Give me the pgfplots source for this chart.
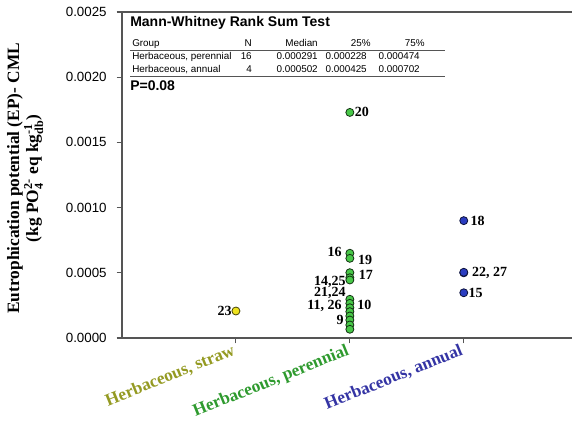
\documentclass[border=0pt]{standalone}
\usepackage{pgfplots}
\pgfplotsset{compat=1.18}
\usepackage{amsmath}
\usepackage{fontspec}
\setmainfont{Liberation Serif}
\newfontfamily\arial{Liberation Sans}
\definecolor{strawtxt}{HTML}{949A22}
\definecolor{pertxt}{HTML}{2E9A2E}
\definecolor{anntxt}{HTML}{3434A4}
\definecolor{yelpt}{HTML}{EEE21E}
\definecolor{grnpt}{HTML}{48C848}
\definecolor{blupt}{HTML}{2A3CC0}
\definecolor{axgray}{HTML}{555555}
\begin{document}
\begin{tikzpicture}
\begin{axis}[name=ax, scale only axis, width=337.5pt, height=244.5pt,
  xmin=0, xmax=3.95, ymin=0, ymax=0.0025,
  axis x line=box, axis y line=left,
  x axis line style={-, axgray, line width=0.8pt},
  y axis line style={-, axgray, line width=0.8pt},
  tick style={axgray, line width=0.8pt},
  tick align=outside, major tick length=4pt,
  xtick={1,2,3}, xtick pos=bottom,
  xticklabels={\textcolor{strawtxt}{Herbaceous, straw},\textcolor{pertxt}{Herbaceous, perennial},\textcolor{anntxt}{Herbaceous, annual}},
  xticklabel style={rotate=22, anchor=north east, font=\bfseries\fontsize{13}{14}\selectfont, inner sep=1pt, xshift=-2pt, yshift=2.5pt},
  ytick={0,0.0005,0.0010,0.0015,0.0020,0.0025},
  scaled y ticks=false,
  yticklabel style={/pgf/number format/fixed, /pgf/number format/fixed zerofill, /pgf/number format/precision=4, /pgf/number format/assume math mode=true, font=\arial\fontsize{10}{12}\selectfont, xshift=-4pt},
  ylabel={Eutrophication potential (EP)- CML\\(kg PO$_{\text{4}}^{\text{2-}}$ eq kg$_{\text{db}}^{\text{-1}}$)},
  ylabel style={align=center, font=\bfseries\fontsize{13}{11.5}\selectfont, at={(axis description cs:-0.215,0.49)}, anchor=center, rotate=0},
  clip=false,
]
\addplot[only marks, mark=*, mark size=3pt, mark options={fill=yelpt, draw=black!70!yelpt, line width=0.6pt}] coordinates {(1,0.000207)};
\addplot[only marks, mark=*, mark size=3pt, mark options={fill=grnpt, draw=black!75!grnpt, line width=0.6pt}] coordinates {
(2,0.00173) (2,0.00065) (2,0.000611) (2,0.000501) (2,0.000462) (2,0.000445)
(2,0.000297) (2,0.000266) (2,0.000232) (2,0.000202) (2,0.000169) (2,0.000138) (2,0.0001) (2,0.000067)};
\addplot[only marks, mark=*, mark size=3pt, mark options={fill=blupt, draw=black!70!blupt, line width=0.6pt}] coordinates {
(3,0.0009) (3,0.0005) (3,0.000504) (3,0.000347)};
\begin{scope}[font=\bfseries\fontsize{10.5}{12}\selectfont, inner sep=0pt]
\node[anchor=east] at ([xshift=-3pt]axis cs:1,0.000207) {23};
\node[anchor=west] at ([xshift=3.5pt]axis cs:2,0.00173) {20};
\node[anchor=east] at ([xshift=-6pt]axis cs:2,0.00066) {16};
\node[anchor=west] at ([xshift=6pt]axis cs:2,0.000598) {19};
\node[anchor=west] at ([xshift=6.5pt]axis cs:2,0.000483) {17};
\node[anchor=east] at ([xshift=-3pt]axis cs:2,0.000432) {14,25};
\node[anchor=east] at ([xshift=-3pt]axis cs:2,0.000343) {21,24};
\node[anchor=east] at ([xshift=-6pt]axis cs:2,0.000245) {11, 26};
\node[anchor=west] at ([xshift=5.5pt]axis cs:2,0.000253) {10};
\node[anchor=east] at ([xshift=-4.5pt]axis cs:2,0.000138) {9};
\node[anchor=west] at ([xshift=5pt]axis cs:3,0.0009) {18};
\node[anchor=west] at ([xshift=6pt]axis cs:3,0.000502) {22, 27};
\node[anchor=west] at ([xshift=3.5pt]axis cs:3,0.000347) {15};
\end{scope}
\end{axis}
\begin{scope}[shift={(ax.north west)}, xshift=-91.5pt, yshift=9pt, x=0.75pt, y=-0.75pt]
\node[anchor=base west, inner sep=0pt, font=\arial\bfseries\fontsize{10.5}{12}\selectfont] at (130,27) {Mann-Whitney Rank Sum Test};
\begin{scope}[font=\arial\fontsize{7.4}{9}\selectfont, inner sep=0pt]
\node[anchor=base west] at (132,47) {Group};
\node[anchor=base east] at (252,47) {N};
\node[anchor=base east] at (318,47) {Median};
\node[anchor=base east] at (371,47) {25\%};
\node[anchor=base east] at (425,47) {75\%};
\node[anchor=base west] at (132,59.5) {Herbaceous, perennial};
\node[anchor=base east] at (252,59.5) {16};
\node[anchor=base east] at (318,59.5) {0.000291};
\node[anchor=base east] at (367,59.5) {0.000228};
\node[anchor=base east] at (420,59.5) {0.000474};
\node[anchor=base west] at (132,72.5) {Herbaceous, annual};
\node[anchor=base east] at (252,72.5) {4};
\node[anchor=base east] at (318,72.5) {0.000502};
\node[anchor=base east] at (367,72.5) {0.000425};
\node[anchor=base east] at (420,72.5) {0.000702};
\end{scope}
\draw[axgray, line width=0.8pt] (130,50.5) -- (445,50.5);
\draw[axgray, line width=0.8pt] (130,76.5) -- (445,76.5);
\node[anchor=base west, inner sep=0pt, font=\arial\bfseries\fontsize{10.5}{12}\selectfont] at (130,90.5) {P=0.08};
\pgfresetboundingbox
\path[use as bounding box] (0,0) rectangle (573,422);
\end{scope}
\end{tikzpicture}
\end{document}
